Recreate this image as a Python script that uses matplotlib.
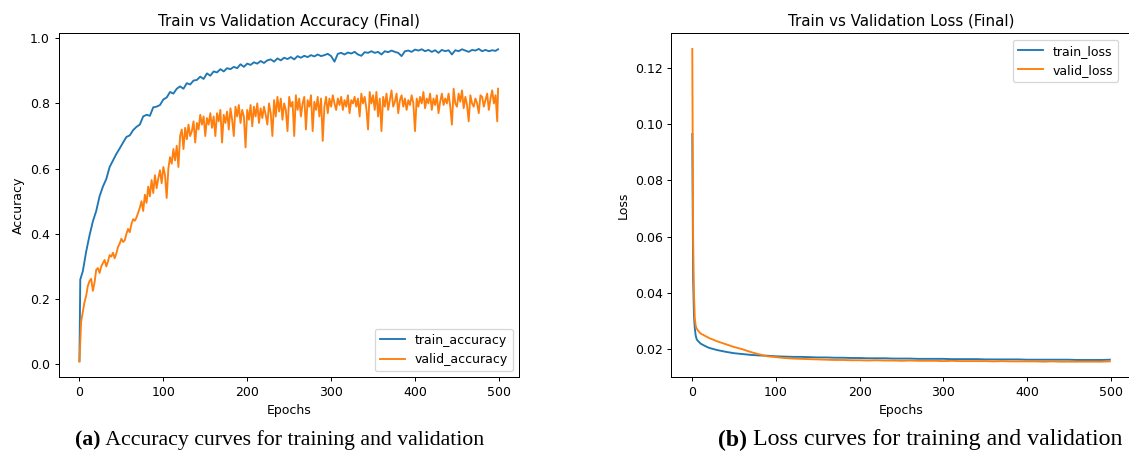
import numpy as np
import matplotlib
matplotlib.use('Agg')
import matplotlib.pyplot as plt

# ---------------- data ----------------
train_acc_epochs = [0, 1] + list(range(4, 500, 4)) + [499]
train_accuracy = [
    0.010, 0.260,
    0.285, 0.345, 0.395, 0.438, 0.470, 0.515, 0.545, 0.568, 0.605, 0.625, 0.645, 0.662,
    0.680, 0.697, 0.702, 0.718, 0.728, 0.735, 0.760, 0.765, 0.762, 0.788, 0.790, 0.795,
    0.812, 0.818, 0.835, 0.830, 0.845, 0.852, 0.845, 0.862, 0.858, 0.870, 0.872, 0.882,
    0.875, 0.892, 0.885, 0.898, 0.895, 0.905, 0.898, 0.908, 0.905, 0.912, 0.908, 0.920,
    0.912, 0.922, 0.918, 0.926, 0.922, 0.930, 0.924, 0.932, 0.935, 0.928, 0.938, 0.932,
    0.940, 0.936, 0.942, 0.935, 0.945, 0.940, 0.946, 0.942, 0.948, 0.944, 0.950, 0.945,
    0.948, 0.952, 0.945, 0.928, 0.952, 0.955, 0.950, 0.956, 0.953, 0.958, 0.950, 0.946,
    0.957, 0.955, 0.960, 0.955, 0.958, 0.950, 0.960, 0.957, 0.962, 0.958, 0.955, 0.945,
    0.960, 0.962, 0.958, 0.965, 0.962, 0.966, 0.960, 0.964, 0.958, 0.963, 0.955, 0.964,
    0.960, 0.963, 0.950, 0.963, 0.960, 0.966, 0.962, 0.958, 0.964, 0.962, 0.967, 0.960,
    0.964, 0.960, 0.963, 0.961,
    0.966,
]

valid_acc_epochs = list(range(0, 500, 2)) + [499]
valid_accuracy = [
    0.008, 0.130, 0.160, 0.190, 0.210,
    0.240, 0.255, 0.262, 0.225, 0.250,
    0.290, 0.295, 0.280, 0.300, 0.310,
    0.320, 0.300, 0.315, 0.335, 0.330,
    0.342, 0.325, 0.340, 0.360, 0.370,
    0.385, 0.375, 0.380, 0.400, 0.415,
    0.405, 0.430, 0.445, 0.440, 0.450,
    0.465, 0.480, 0.500, 0.470, 0.520,
    0.495, 0.545, 0.515, 0.565, 0.525,
    0.580, 0.540, 0.570, 0.595, 0.555,
    0.605, 0.580, 0.510, 0.600, 0.635,
    0.615, 0.660, 0.625, 0.670, 0.605,
    0.700, 0.720, 0.660, 0.725, 0.690,
    0.735, 0.700, 0.715, 0.745, 0.680,
    0.740, 0.720, 0.765, 0.735, 0.760,
    0.700, 0.755, 0.735, 0.770, 0.725,
    0.760, 0.700, 0.770, 0.745, 0.780,
    0.680, 0.765, 0.740, 0.775, 0.720,
    0.785, 0.750, 0.700, 0.790, 0.760,
    0.795, 0.740, 0.780, 0.760, 0.665,
    0.780, 0.750, 0.795, 0.730, 0.790,
    0.760, 0.800, 0.740, 0.785, 0.755,
    0.790, 0.765, 0.735, 0.800, 0.770,
    0.700, 0.810, 0.760, 0.820, 0.775,
    0.815, 0.750, 0.800, 0.780, 0.715,
    0.820, 0.790, 0.805, 0.700, 0.825,
    0.780, 0.815, 0.760, 0.800, 0.820,
    0.720, 0.810, 0.790, 0.825, 0.715,
    0.805, 0.780, 0.820, 0.760, 0.815,
    0.685, 0.790, 0.820, 0.770, 0.815,
    0.790, 0.825, 0.800, 0.780, 0.815,
    0.795, 0.820, 0.780, 0.810, 0.790,
    0.825, 0.770, 0.810, 0.800, 0.820,
    0.790, 0.815, 0.760, 0.830, 0.800,
    0.820, 0.785, 0.720, 0.835, 0.800,
    0.825, 0.780, 0.835, 0.760, 0.815,
    0.715, 0.820, 0.790, 0.830, 0.780,
    0.810, 0.840, 0.790, 0.805, 0.830,
    0.770, 0.810, 0.825, 0.790, 0.815,
    0.780, 0.810, 0.795, 0.825, 0.800,
    0.715, 0.815, 0.790, 0.820, 0.800,
    0.835, 0.785, 0.815, 0.800, 0.830,
    0.780, 0.815, 0.795, 0.825, 0.770,
    0.805, 0.830, 0.795, 0.815, 0.800,
    0.830, 0.790, 0.735, 0.845, 0.800,
    0.790, 0.830, 0.805, 0.840, 0.785,
    0.820, 0.795, 0.745, 0.825, 0.800,
    0.790, 0.815, 0.800, 0.770, 0.825,
    0.820, 0.790, 0.810, 0.830, 0.780,
    0.815, 0.840, 0.800, 0.825, 0.745,
    0.845,
]

loss_epochs = [0, 1, 2, 3, 4, 5, 6, 8, 10, 15, 20, 25, 30] + list(range(40, 500, 10)) + [499]
train_loss = [
    0.0964, 0.0450, 0.0320, 0.0275, 0.0250, 0.0238, 0.0232, 0.0226, 0.0220,
    0.0212, 0.0205, 0.0201, 0.0197,
    0.0191, 0.0186, 0.0183, 0.0180, 0.0178, 0.0177, 0.0175, 0.0174, 0.0173,
    0.0173, 0.0172, 0.0171, 0.0171, 0.0170, 0.0170, 0.0169, 0.0169, 0.0168,
    0.0168, 0.0168, 0.0167, 0.0167, 0.0167, 0.0166, 0.0166, 0.0166, 0.0166,
    0.0165, 0.0165, 0.0165, 0.0165, 0.0164, 0.0164, 0.0164, 0.0164, 0.0164,
    0.0163, 0.0163, 0.0163, 0.0163, 0.0163, 0.0163, 0.0162, 0.0162, 0.0162,
    0.0162, 0.0163,
]
valid_loss = [
    0.1266, 0.0600, 0.0400, 0.0310, 0.0285, 0.0275, 0.0270, 0.0262, 0.0256,
    0.0248, 0.0240, 0.0234, 0.0228,
    0.0218, 0.0208, 0.0200, 0.0190, 0.0182, 0.0175, 0.0172, 0.0169, 0.0167,
    0.0166, 0.0165, 0.0164, 0.0163, 0.0162, 0.0162, 0.0161, 0.0161, 0.0160,
    0.0161, 0.0160, 0.0160, 0.0159, 0.0160, 0.0159, 0.0159, 0.0159, 0.0158,
    0.0159, 0.0158, 0.0158, 0.0158, 0.0158, 0.0157, 0.0158, 0.0157, 0.0157,
    0.0157, 0.0157, 0.0156, 0.0157, 0.0156, 0.0156, 0.0156, 0.0156, 0.0156,
    0.0156, 0.0157,
]

# ---------------- figure ----------------
W, H, DPI = 1129, 456, 90
fig = plt.figure(figsize=(W / DPI, H / DPI), dpi=DPI)


def px_axes(x0, x1, y0, y1):
    return fig.add_axes([x0 / W, 1 - y1 / H, (x1 - x0) / W, (y1 - y0) / H])


ax1 = px_axes(58.5, 519.0, 33.3, 377.3)
ax2 = px_axes(671.4, 1130.7, 33.3, 377.3)

ax1.plot(train_acc_epochs, train_accuracy, label='train_accuracy')
ax1.plot(valid_acc_epochs, valid_accuracy, label='valid_accuracy')
ax1.set_title('Train vs Validation Accuracy (Final)')
ax1.set_xlabel('Epochs')
ax1.set_ylabel('Accuracy')
ax1.legend(loc='lower right')

ax2.plot(loss_epochs, train_loss, label='train_loss')
ax2.plot(loss_epochs, valid_loss, label='valid_loss')
ax2.set_title('Train vs Validation Loss (Final)')
ax2.set_xlabel('Epochs')
ax2.set_ylabel('Loss')
ax2.legend(loc='upper right', bbox_to_anchor=(0.986, 1.0))

renderer = fig.canvas.get_renderer()


def caption(xc, yc, bold, rest, target_w):
    size = 16
    for _ in range(3):
        t1 = fig.text(0, 0, bold, family='Liberation Serif', weight='bold', fontsize=size)
        t2 = fig.text(0, 0, ' ' + rest, family='Liberation Serif', fontsize=size)
        w1 = t1.get_window_extent(renderer).width
        w2 = t2.get_window_extent(renderer).width
        tot = w1 + w2
        t1.remove(); t2.remove()
        size = size * target_w / tot
    t1 = fig.text(0, 0, bold, family='Liberation Serif', weight='bold', fontsize=size, va='center')
    t2 = fig.text(0, 0, ' ' + rest, family='Liberation Serif', fontsize=size, va='center')
    w1 = t1.get_window_extent(renderer).width
    w2 = t2.get_window_extent(renderer).width
    x0 = xc - (w1 + w2) / 2
    t1.set_position((x0 / W, 1 - yc / H))
    t2.set_position(((x0 + w1) / W, 1 - yc / H))


caption(279.5, 440, '(a)', 'Accuracy curves for training and validation', 409)
caption(920, 440, '(b)', 'Loss curves for training and validation', 404)

fig.savefig('out.png', dpi=DPI)
